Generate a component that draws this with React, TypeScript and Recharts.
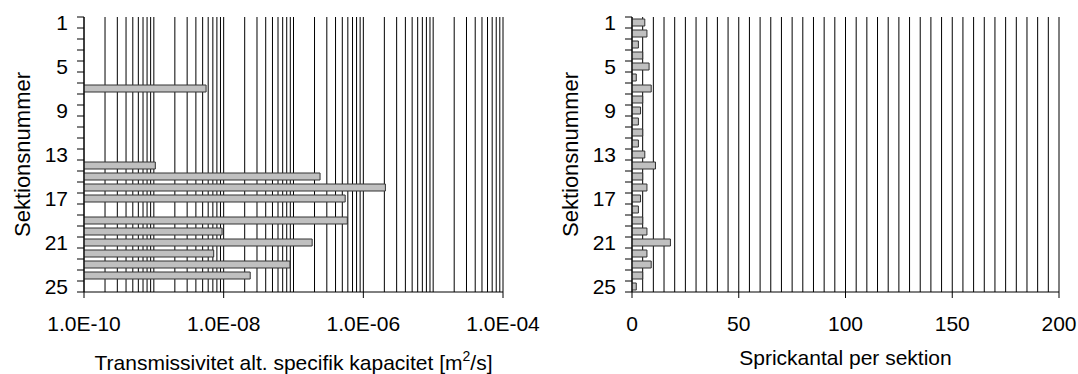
import React from 'react';
import { BarChart, Bar, XAxis, YAxis, CartesianGrid, Label } from 'recharts';

const FONT = '"Liberation Sans", Arial, sans-serif';

// Sections 1..25
const sections = ['1','2','3','4','5','6','7','8','9','10','11','12','13','14','15','16','17','18','19','20','21','22','23','24','25'];

// Transmissivity / specific capacity [m2/s] (null = not measured)
const transmissivity: (number | null)[] = [
  null, null, null, null, null, null, 5.6e-9, null, null, null, null, null, null,
  1.05e-9, 2.4e-7, 2.07e-6, 5.5e-7, null, 5.9e-7, 9.5e-9, 1.85e-7, 7.2e-9, 8.9e-8, 2.4e-8, null,
];

// Fracture count per section
const fractureCount = [6, 7, 3, 5, 8, 2, 9, 5, 4, 3, 5, 3, 6, 11, 5, 7, 4, 3, 5, 7, 18, 7, 9, 5, 2];

// Axis ticks / labels
const logDecades = [-10, -9, -8, -7, -6, -5];
const logMultipliers = [1, 2, 3, 4, 5, 6, 7, 8, 9];
const logGridTicks = [...logDecades.flatMap((d) => logMultipliers.map((m) => m * Math.pow(10, d))), 1e-4];
const logLabelValues = [1e-10, 1e-8, 1e-6, 1e-4];
const logLabelTexts = ['1.0E-10', '1.0E-08', '1.0E-06', '1.0E-04'];

const countGridTicks = Array.from({ length: 41 }, (_, i) => i * 5);
const countLabelValues = [0, 50, 100, 150, 200];
const countLabelTexts = ['0', '50', '100', '150', '200'];

const tData = sections.map((s, i) => ({ sec: s, t: transmissivity[i] }));
const cData = sections.map((s, i) => ({ sec: s, c: fractureCount[i] }));

const makeXTick = (values: number[], texts: string[]) => (props: any) => {
  const { x, y, payload } = props;
  const v = payload.value;
  const i = values.findIndex((lv) => lv === v || Math.abs(lv - v) <= Math.abs(lv) * 1e-6);
  if (i < 0) return <g />;
  return (
    <g>
      <line x1={x} x2={x} y1={y} y2={y + 6} stroke="#000" strokeWidth={1} />
      <text x={x} y={y + 24} dy="0.71em" textAnchor="middle" fontSize={21} fontFamily={FONT} fill="#000">
        {texts[i]}
      </text>
    </g>
  );
};

const YTick = (props: any) => {
  const { x, y, payload, index, height, visibleTicksCount } = props;
  const band = height && visibleTicksCount ? height / visibleTicksCount : 11;
  const last = index === visibleTicksCount - 1;
  return (
    <g>
      <line x1={x - 7} x2={x} y1={y - band / 2} y2={y - band / 2} stroke="#000" strokeWidth={1} />
      {last && <line x1={x - 7} x2={x} y1={y + band / 2} y2={y + band / 2} stroke="#000" strokeWidth={1} />}
      {index % 4 === 0 && (
        <text x={x - 16} y={y} dy="0.355em" textAnchor="end" fontSize={21} fontFamily={FONT} fill="#000">
          {payload.value}
        </text>
      )}
    </g>
  );
};

const YTitle = (props: any) => {
  const vb = props.viewBox || { x: 0, y: 17, width: 84, height: 275 };
  const cx = vb.x + 30;
  const cy = vb.y + vb.height / 2;
  return (
    <text x={cx} y={cy} textAnchor="middle" fontSize={22} fontFamily={FONT} fill="#000" transform={`rotate(-90, ${cx}, ${cy})`}>
      Sektionsnummer
    </text>
  );
};

const LeftXTitle = (props: any) => {
  const vb = props.viewBox;
  const cx = vb.x + vb.width / 2;
  return (
    <text x={cx} y={vb.y + 78} textAnchor="middle" fontSize={21} fontFamily={FONT} fill="#000">
      <tspan>Transmissivitet alt. specifik kapacitet [m</tspan>
      <tspan fontSize={14} dy={-9}>2</tspan>
      <tspan dy={9}>/s]</tspan>
    </text>
  );
};

const RightXTitle = (props: any) => {
  const vb = props.viewBox;
  const cx = vb.x + vb.width / 2;
  return (
    <text x={cx} y={vb.y + 73} textAnchor="middle" fontSize={21} fontFamily={FONT} fill="#000">
      Sprickantal per sektion
    </text>
  );
};

export default function App() {
  return (
    <div style={{ position: 'absolute', left: 0, top: 0, width: 1078, height: 374, background: '#fff' }}>
      <div style={{ position: 'absolute', left: 0, top: 0 }}>
        <BarChart width={548} height={374} data={tData} layout="vertical" margin={{ top: 17, right: 45, bottom: 0, left: 0 }} barSize={7}>
          <CartesianGrid horizontal={false} vertical={true} stroke="#000" strokeWidth={1} />
          <XAxis
            type="number"
            scale="log"
            domain={[1e-10, 1e-4]}
            allowDataOverflow
            ticks={logGridTicks}
            interval={0}
            tickSize={0}
            tickMargin={0}
            tickLine={false}
            axisLine={{ stroke: '#000' }}
            height={82}
            tick={makeXTick(logLabelValues, logLabelTexts)}
            label={<Label content={(p: any) => <LeftXTitle {...p} />} />}
          />
          <XAxis xAxisId="top" orientation="top" type="number" domain={[0, 1]} height={0} tick={false} tickLine={false} axisLine={{ stroke: '#a0a0a0' }} />
          <YAxis
            type="category"
            dataKey="sec"
            interval={0}
            width={84}
            tickSize={0}
            tickMargin={0}
            tickLine={false}
            axisLine={{ stroke: '#000' }}
            tick={(p: any) => <YTick {...p} />}
            label={<Label content={(p: any) => <YTitle {...p} />} />}
          />
          <Bar dataKey="t" fill="#c0c0c0" stroke="#333" strokeWidth={1} isAnimationActive={false} />
        </BarChart>
      </div>
      <div style={{ position: 'absolute', left: 548, top: 0 }}>
        <BarChart width={530} height={374} data={cData} layout="vertical" margin={{ top: 17, right: 19, bottom: 0, left: 0 }} barSize={7}>
          <CartesianGrid horizontal={false} vertical={true} stroke="#000" strokeWidth={1} />
          <XAxis
            type="number"
            domain={[0, 200]}
            allowDataOverflow
            ticks={countGridTicks}
            interval={0}
            tickSize={0}
            tickMargin={0}
            tickLine={false}
            axisLine={{ stroke: '#000' }}
            height={82}
            tick={makeXTick(countLabelValues, countLabelTexts)}
            label={<Label content={(p: any) => <RightXTitle {...p} />} />}
          />
          <XAxis xAxisId="top" orientation="top" type="number" domain={[0, 1]} height={0} tick={false} tickLine={false} axisLine={{ stroke: '#a0a0a0' }} />
          <YAxis
            type="category"
            dataKey="sec"
            interval={0}
            width={84}
            tickSize={0}
            tickMargin={0}
            tickLine={false}
            axisLine={{ stroke: '#000' }}
            tick={(p: any) => <YTick {...p} />}
            label={<Label content={(p: any) => <YTitle {...p} />} />}
          />
          <Bar dataKey="c" fill="#c0c0c0" stroke="#333" strokeWidth={1} isAnimationActive={false} />
        </BarChart>
      </div>
    </div>
  );
}
